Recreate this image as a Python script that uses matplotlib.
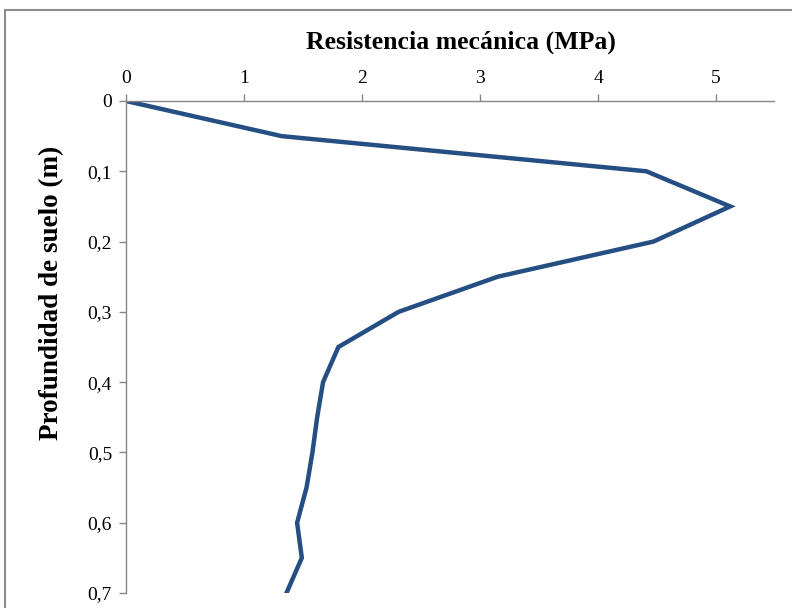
import matplotlib.pyplot as plt
import matplotlib.patches as patches

# resistencia (MPa) vs profundidad (m)
depth = [0, 0.05, 0.1, 0.15, 0.2, 0.25, 0.3, 0.35, 0.4, 0.45, 0.5, 0.55, 0.6, 0.65, 0.7]
resist = [0, 1.32, 4.41, 5.12, 4.47, 3.15, 2.31, 1.80, 1.67, 1.62, 1.58, 1.53, 1.45, 1.49, 1.36]

x_ticks = [0, 1, 2, 3, 4, 5]
y_ticks = [0, 0.1, 0.2, 0.3, 0.4, 0.5, 0.6, 0.7]
y_labels = ['0', '0,1', '0,2', '0,3', '0,4', '0,5', '0,6', '0,7']

plt.rcParams['font.family'] = ['Liberation Serif', 'DejaVu Serif']

W, H = 792, 608
fig = plt.figure(figsize=(W / 100, H / 100), dpi=100)
ax = fig.add_axes([126 / W, 1 - 593 / H, (774 - 126) / W, (593 - 101) / H])

ax.plot(resist, depth, color='#254e82', lw=3.2, solid_joinstyle='miter')

ax.set_xlim(0, (774 - 126) / 118)
ax.set_ylim(0.7, 0)
ax.set_xticks(x_ticks)
ax.set_xticklabels([str(v) for v in x_ticks])
ax.set_yticks(y_ticks)
ax.set_yticklabels(y_labels)

ax.xaxis.tick_top()
ax.tick_params(axis='both', direction='out', length=5, color='#868686',
               labelsize=14, width=1)
ax.tick_params(axis='x', pad=5)
ax.tick_params(axis='y', pad=5)
for s in ['bottom', 'right']:
    ax.spines[s].set_visible(False)
for s in ['top', 'left']:
    ax.spines[s].set_color('#868686')
    ax.spines[s].set_linewidth(1)

fig.text(461 / W, 1 - 42 / H, 'Resistencia mecánica (MPa)', ha='center', va='center',
         fontsize=18.5, fontweight='bold')
fig.text(52 / W, 1 - 293 / H, 'Profundidad de suelo (m)', ha='center', va='center',
         fontsize=19.5, fontweight='bold', rotation=90)

# outer chart border
fig.patches.append(patches.Rectangle((5 / W, -0.1), 1.2, 1 - 10 / H + 0.1,
                                     transform=fig.transFigure, fill=False,
                                     edgecolor='#8c8c8c', lw=1.5))

fig.savefig('out.png', dpi=100)
